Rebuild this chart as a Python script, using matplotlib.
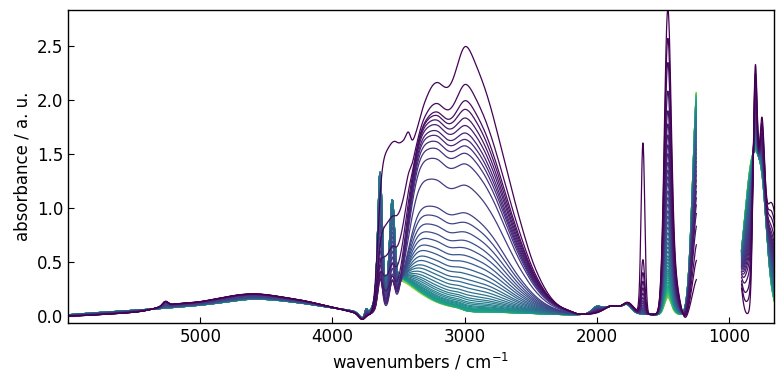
import numpy as np
import matplotlib
matplotlib.use("Agg")
import matplotlib.pyplot as plt

# ---------------- data ----------------
n_spectra = 55

# absorbance at 3000 cm-1 for every spectrum (first = darkest)
h3000 = [2.52, 2.17, 2.02, 1.94, 1.86, 1.79, 1.72, 1.66, 1.60, 1.53,
         1.43, 1.23, 0.97, 0.88, 0.79, 0.71, 0.64, 0.57, 0.51, 0.45,
         0.40, 0.35, 0.31, 0.27, 0.235, 0.205, 0.18, 0.16, 0.14, 0.125,
         0.11, 0.10, 0.09, 0.082, 0.075, 0.07, 0.065, 0.06, 0.057, 0.055,
         0.054, 0.052, 0.051, 0.05, 0.049, 0.048, 0.047, 0.046, 0.045, 0.044,
         0.043, 0.043, 0.042, 0.041, 0.04]

# peak absorbance of the 1460 cm-1 band
h1460 = [2.80, 2.53, 2.31, 2.05, 1.87, 1.75, 1.65, 1.56, 1.48, 1.40,
         1.33, 1.27, 1.21, 1.14, 1.08, 1.02, 0.96, 0.91, 0.86, 0.81,
         0.76, 0.71, 0.67, 0.63, 0.59, 0.55, 0.52, 0.49, 0.46, 0.43,
         0.41, 0.39, 0.37, 0.35, 0.33, 0.31, 0.30, 0.28, 0.27, 0.26,
         0.25, 0.24, 0.23, 0.22, 0.21, 0.21, 0.20, 0.20, 0.19, 0.19,
         0.18, 0.18, 0.18, 0.17, 0.17]

# height of the 1650 cm-1 band above the baseline
h1650 = [1.58, 0.50, 0.38, 0.30, 0.24, 0.19, 0.15, 0.12, 0.10, 0.08,
         0.065, 0.05, 0.04, 0.032, 0.025, 0.02, 0.016, 0.013, 0.01, 0.008] + [0.005] * 35

# weight of the broad 3650-3400 "bulk water" plateau (only first spectra)
bulk_w = [1.0, 0.55, 0.35, 0.22, 0.12, 0.06, 0.03] + [0.0] * 48

# weight of the sharp OH bands at 3640 / 3548 cm-1
oh_w = [0.0, 0.03, 0.07, 0.11, 0.15, 0.2, 0.25, 0.3, 0.35, 0.4,
        0.45, 0.5, 0.55, 0.6, 0.64, 0.68, 0.72, 0.76, 0.8, 0.83,
        0.86, 0.89, 0.92, 0.94, 0.96, 0.98, 1.0] + [1.0] * 20 + \
       [0.99, 0.98, 0.97, 0.96, 0.95, 0.94, 0.93, 0.92]

# common baseline (wavenumber, absorbance)
base_wn = [6000, 5900, 5800, 5700, 5600, 5500, 5400, 5300, 5200, 5100, 5000,
           4900, 4800, 4700, 4600, 4500, 4400, 4300, 4200, 4100, 4000, 3900,
           3800, 3700, 3600, 3500, 3400, 3300, 3200, 3100, 3000, 2900, 2800,
           2700, 2600, 2500, 2400, 2300, 2200, 2100, 2000, 1900, 1800, 1700,
           1600, 1500, 1400, 1300]
base_ab = [0.012, 0.02, 0.03, 0.037, 0.045, 0.052, 0.06, 0.07, 0.08, 0.09, 0.10,
           0.115, 0.13, 0.15, 0.16, 0.155, 0.145, 0.13, 0.115, 0.095, 0.075, 0.06,
           0.035, 0.015, 0.01, 0.01, 0.01, 0.01, 0.01, 0.01, 0.01, 0.01, 0.01,
           0.01, 0.01, 0.01, 0.01, 0.01, 0.012, 0.015, 0.02, 0.025, 0.025, 0.02,
           0.015, 0.01, 0.005, 0.0]

# broad water band profile (relative to its value at 3000 cm-1)
water_wn = [3450, 3400, 3350, 3300, 3250, 3200, 3150, 3100, 3050, 3000, 2950,
            2900, 2850, 2800, 2750, 2700, 2650, 2600, 2550, 2500, 2450, 2400,
            2350, 2300, 2250, 2200]
water_ab = [0.30, 0.65, 0.90, 0.97, 0.99, 1.0, 0.95, 0.93, 0.96, 1.0, 0.97,
            0.92, 0.86, 0.78, 0.69, 0.58, 0.48, 0.38, 0.30, 0.22, 0.16, 0.11,
            0.075, 0.05, 0.03, 0.02]

# difference of the wettest spectrum from the dry ones, 6000-3800 cm-1
wdiff_wn = [6000, 5900, 5800, 5700, 5600, 5500, 5400, 5300, 5200, 5100, 5000,
            4900, 4800, 4700, 4600, 4500, 4400, 4300, 4200, 4100, 4000, 3900, 3800]
wdiff_ab = [-0.012, -0.018, -0.02, -0.02, -0.02, -0.018, -0.012, 0.02, 0.035, 0.03,
            0.03, 0.04, 0.05, 0.05, 0.05, 0.045, 0.035, 0.03, 0.025, 0.015, 0.005,
            -0.005, -0.02]

# extra plateau of the wettest spectrum
bulk_wn = [3700, 3675, 3650, 3625, 3600, 3575, 3550, 3525, 3500, 3475, 3450,
           3425, 3400, 3350, 3300, 3250, 3200, 3150, 3100, 3050, 3000, 2950,
           2900, 2850, 2800, 2750, 2700, 2650, 2600, 2550, 2500, 2450, 2400,
           2350, 2300]
bulk_ab = [0.0, 0.2, 0.95, 1.4, 1.5, 1.55, 1.6, 1.6, 1.48, 1.3, 1.02,
           0.72, 0.45, 0.13, 0.15, 0.27, 0.30, 0.29, 0.35, 0.52, 0.68, 0.60,
           0.54, 0.50, 0.45, 0.38, 0.34, 0.29, 0.24, 0.18, 0.12, 0.08, 0.05,
           0.015, 0.0]

# tail under the OH bands of the dry spectra
ohtail_wn = [3650, 3600, 3550, 3500, 3450, 3400, 3350, 3300, 3250, 3200, 3150,
             3100, 3050, 3000, 2900, 2800, 2700, 2600, 2500, 2400, 2300]
ohtail_ab = [0.05, 0.2, 0.28, 0.36, 0.33, 0.28, 0.23, 0.19, 0.15, 0.12, 0.10,
             0.08, 0.06, 0.045, 0.035, 0.03, 0.025, 0.02, 0.015, 0.01, 0.005]

# narrow bands: centre, width, height
oh_bands = [(3640, 16, 1.08), (3650, 35, 0.15), (3548, 18, 0.78),
            (3745, 10, 0.06), (2000, 35, 0.06)]
base_bands = [(1880, 60, 0.07), (1770, 35, 0.07), (3775, 25, -0.05)]
nh4_bands = [(1462, 26, 1.0), (1405, 30, 0.1), (1730, 40, 0.0125), (1330, 20, -0.015)]
wet_bands = [(5265, 20, 0.04)]
band1650 = (1650, 14)
lattice = (1235, 38, 0.35, 2.15)        # centre, width, height wet, height dry
# 900-650 cm-1 region: bands of the wettest and of the driest spectra
right_wet = [(800, 16, 2.1), (752, 20, 1.3), (680, 60, 1.05), (930, 25, 0.45)]
right_dry = [(810, 70, 1.5), (740, 30, 0.3)]
gap = (1245, 904)                        # masked range
cmap_range = (0.0, 0.85)


# ---------------- build the spectra ----------------
wn = np.arange(5999.6, 649.0, -1.0)


def gauss(x, c, s):
    return np.exp(-0.5 * ((x - c) / s) ** 2)


def profile(x, cs, vs):
    c = np.asarray(cs, float)
    v = np.asarray(vs, float)
    s = 0.7 * np.abs(np.gradient(c))
    return np.sum(v / 1.754 * np.exp(-0.5 * ((x[:, None] - c) / s) ** 2), axis=1)


def bandsum(x, bands):
    out = np.zeros_like(x)
    for c, s, a in bands:
        out += a * gauss(x, c, s)
    return out


pt = np.array([3000.0])
base = profile(wn, base_wn, base_ab) + bandsum(wn, base_bands)
water = profile(wn, water_wn, water_ab)
wdiff = profile(wn, wdiff_wn, wdiff_ab) + bandsum(wn, wet_bands)
bulk = profile(wn, bulk_wn, bulk_ab)
oh = profile(wn, ohtail_wn, ohtail_ab) + bandsum(wn, oh_bands)
nh4 = bandsum(wn, nh4_bands)
b1650 = gauss(wn, *band1650)
blat = gauss(wn, lattice[0], lattice[1])
r_wet = bandsum(wn, right_wet)
r_dry = bandsum(wn, right_dry)

base3000 = profile(pt, base_wn, base_ab)[0]
bulk3000 = profile(pt, bulk_wn, bulk_ab)[0]
oh3000 = (profile(pt, ohtail_wn, ohtail_ab) + bandsum(pt, oh_bands))[0]

h1460 = np.array(h1460)
qmix = (h1460 - h1460[-1]) / (h1460[0] - h1460[-1])
mw = [max(h3000[i] - base3000 - bulk_w[i] * bulk3000 - oh_w[i] * oh3000, 0.0)
      for i in range(n_spectra)]

spectra = []
for i in range(n_spectra):
    q = qmix[i]
    y = (base + mw[i] * water + mw[i] / mw[0] * wdiff + bulk_w[i] * bulk
         + oh_w[i] * oh + (h1460[i] - 0.01) * nh4 + h1650[i] * b1650
         + (lattice[2] * q + lattice[3] * (1 - q)) * blat
         + q * r_wet + (1 - q) * r_dry)
    y = np.where((wn < gap[0]) & (wn > gap[1]), np.nan, y)
    spectra.append(y)

# ---------------- plot ----------------
plt.rcParams["font.family"] = "DejaVu Sans"
fig = plt.figure(figsize=(7.84, 3.84), dpi=100)
ax = fig.add_axes([0.0871, 0.1596, 0.8998, 0.8144])
cmap = plt.get_cmap("viridis")
for i in reversed(range(n_spectra)):
    frac = cmap_range[0] + (cmap_range[1] - cmap_range[0]) * i / (n_spectra - 1)
    ax.plot(wn, spectra[i], color=cmap(frac), lw=0.9)

ax.set_xlim(5999.6, 660)
ax.set_ylim(-0.062, 2.833)
ax.set_xticks([5000, 4000, 3000, 2000, 1000])
ax.set_yticks([0.0, 0.5, 1.0, 1.5, 2.0, 2.5])
ax.tick_params(direction="in", top=False, right=False, length=4, labelsize=12)
for sp in ax.spines.values():
    sp.set_linewidth(1.0)
ax.set_xlabel("wavenumbers / cm$^{-1}$", fontsize=12)
ax.set_ylabel("absorbance / a. u.", fontsize=12)

fig.savefig("out.png", dpi=100)
